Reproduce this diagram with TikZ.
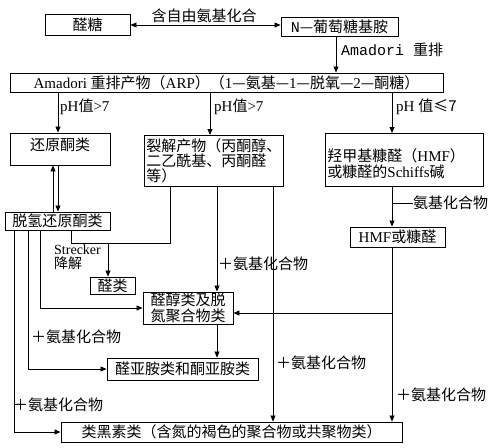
\documentclass[tikz,border=0pt]{standalone}
\usepackage{fontspec}
\setmainfont{Liberation Serif}
\newfontfamily\zhfont{Noto Sans CJK SC}
\newfontfamily\lmono{Liberation Mono}
\newcommand\zh[1]{{\zhfont #1}}
\usetikzlibrary{arrows.meta}
\begin{document}
\begin{tikzpicture}[x=1pt,y=-1pt,
  box/.style={draw, line width=0.9pt, inner sep=1pt, font=\fontsize{15}{16}\selectfont},
  conn/.style={line width=0.8pt},
  arr/.style={conn, -{Triangle[length=6pt,width=5pt]}},
  dbl/.style={conn, {Triangle[length=6pt,width=5pt]}-{Triangle[length=6pt,width=5pt]}},
  lbl/.style={inner sep=0pt, font=\fontsize{15}{16}\selectfont}]
\fill[white] (0,0) rectangle (500,447);
\useasboundingbox (0,0) rectangle (500,447);
% x and y guide coordinates
\coordinate (c14) at (14,0);
\coordinate (c28) at (28,0);
\coordinate (c40) at (40,0);
\coordinate (c53) at (53,0);
\coordinate (c58) at (58,0);
\coordinate (c71) at (71,0);
\coordinate (c108) at (108,0);
\coordinate (c170) at (170,0);
\coordinate (c210) at (210,0);
\coordinate (c217) at (217,0);
\coordinate (c273) at (273,0);
\coordinate (c336) at (336,0);
\coordinate (c392) at (392,0);
\coordinate (yarr) at (0,25);
\coordinate (ystr) at (0,243);
\coordinate (y313) at (0,313);
\coordinate (y203) at (0,203);
\coordinate (tick) at (413,203);
% boxes
\node[box, minimum width=85pt, minimum height=21pt] (sugar) at (87.5,24.5) {\zh{醛糖}};
\node[box, minimum width=117pt, minimum height=19pt] (gly) at (339.5,26.5) {{\lmono N}\zh{—葡萄糖基胺}};
\node[box, minimum width=433pt, minimum height=19pt] (arp) at (226.5,82.5) {Amadori \zh{重排产物（}ARP\zh{）（}1\zh{—氨基—}1\zh{—脱氧—}2\zh{—酮糖）}};
\node[box, minimum width=100pt, minimum height=32pt, text depth=9pt] (red) at (60,149) {\zh{还原酮类}};
\node[box, anchor=north west, minimum width=139pt, minimum height=51pt, text width=135pt, align=left, inner sep=2pt, font=\fontsize{15}{15}\selectfont] (crack) at (144,135) {\zh{裂解产物（丙酮醇、}\\\zh{二乙酰基、丙酮醛}\\\zh{等）}};
\node[box, anchor=north west, minimum width=158pt, minimum height=53pt, text width=154pt, align=left, inner sep=2pt, text depth=10pt] (hmfs) at (325,133) {\zh{羟甲基糠醛（}HMF\zh{）}\\\zh{或糠醛的}Schiffs\zh{碱}};
\node[box, minimum width=105pt, minimum height=18pt] (dh) at (57.5,221) {\zh{脱氢还原酮类}};
\node[box, minimum width=95pt, minimum height=20pt] (hmf2) at (397.5,237) {HMF\zh{或糠醛}};
\node[box, minimum width=45pt, minimum height=17pt] (ald) at (112.5,285.5) {\zh{醛类}};
\node[box, minimum width=90pt, minimum height=32pt, align=center] (aldol) at (188,308) {\zh{醛醇类及脱}\\\zh{氮聚合物类}};
\node[box, minimum width=151pt, minimum height=22pt] (imine) at (182.5,369) {\zh{醛亚胺类和酮亚胺类}};
\node[box, minimum width=341pt, minimum height=20pt] (mel) at (231.5,432) {\zh{类黑素类（含氮的褐色的聚合物或共聚物类）}};
% connectors
\draw[dbl] (sugar.east |- yarr) -- (gly.west |- yarr);
\draw[arr] (gly.south -| c336) -- (arp.north -| c336);
\draw[arr] (arp.south -| c58) -- (red.north -| c58);
\draw[arr] (arp.south -| c210) -- (crack.north -| c210);
\draw[arr] (arp.south -| c392) -- (hmfs.north -| c392);
\draw[arr] (dh.north -| c53) -- (red.south -| c53);
\draw[arr] (red.south -| c58) -- (dh.north -| c58);
\draw[arr] (dh.south -| c14) |- (mel.west);
\draw[arr] (dh.south -| c28) |- (imine.west);
\draw[arr] (dh.south -| c40) |- (aldol.west);
\draw[conn] (dh.south -| c71) |- (ystr -| c170) -- (crack.south -| c170);
\draw[arr] (ystr -| c108) -- (ald.north -| c108);
\draw[arr] (crack.south -| c217) -- (aldol.north -| c217);
\draw[arr] (crack.south -| c273) -- (mel.north -| c273);
\draw[arr] (aldol.south -| c217) -- (imine.north -| c217);
\draw[arr] (hmfs.south -| c392) -- (hmf2.north -| c392);
\draw[arr] (hmf2.south -| c392) -- (mel.north -| c392);
\draw[arr] (y313 -| c392) -- (aldol.east |- y313);
\draw[conn] (y203 -| c392) -- (tick);
% labels
\node[lbl] (l0) at (204,16) {\zh{含自由氨基化合}};
\node[lbl, anchor=west] (l1) at (341,50) {\lmono Amadori \zh{重排}};
\node[lbl, anchor=west] (ph1) at (60,107) {pH\zh{值}>7};
\node[lbl, anchor=west] (ph2) at (214,107) {pH\zh{值}>7};
\node[lbl, anchor=west] (ph3) at (396,107) {pH \zh{值≤7}};
\node[lbl, anchor=west] (l2) at (tick) {\zh{氨基化合物}};
\node[lbl, anchor=north west, align=left, font=\fontsize{14}{14}\selectfont] (str) at (54,245) {Strecker\\\zh{降解}};
\node[lbl, anchor=west] (l3) at (218,264) {\zh{＋氨基化合物}};
\node[lbl, anchor=west] (l4) at (31,337) {\zh{＋氨基化合物}};
\node[lbl, anchor=west] (l5) at (276,363) {\zh{＋氨基化合物}};
\node[lbl, anchor=west] (l6) at (396,395) {\zh{＋氨基化合物}};
\node[lbl, anchor=west] (l7) at (13,405) {\zh{＋氨基化合物}};
\end{tikzpicture}
\end{document}
